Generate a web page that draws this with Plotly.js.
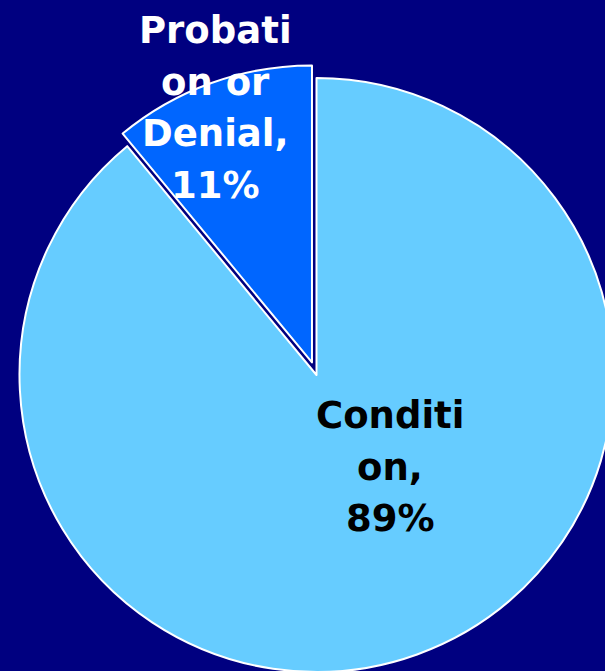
<!DOCTYPE html>
<html>
<head>
<meta charset="utf-8">
<script src="https://cdn.plot.ly/plotly-3.0.1.min.js"></script>
<style>
html,body{margin:0;padding:0;overflow:hidden;background:#000080;width:605px;height:671px;}
#chart{position:absolute;left:0;top:0;width:700px;height:760px;}
</style>
</head>
<body>
<div id="chart"></div>
<script>
const categories = ["Condition", "Probation or Denial"];
const wrappedLabels = ["Conditi<br>on,", "Probati<br>on or<br>Denial,"];
const values = [89, 11];
const sliceColors = ["#66CCFF", "#0066FF"];
const labelColors = ["#000000", "#FFFFFF"];
const pulls = [0, 0.045];
const labelPos = [[390, 464], [215, 105]]; // pixel centers of label blocks
const lineStep = 51.5;

const W = 700, H = 760;
const total = values.reduce((a, b) => a + b, 0);

const annotations = [];
categories.forEach((c, i) => {
  const lines = (wrappedLabels[i] + '<br>' + Math.round(values[i] / total * 100) + '%').split('<br>');
  const n = lines.length;
  lines.forEach((ln, k) => {
    const py = labelPos[i][1] + (k - (n - 1) / 2) * lineStep + 3;
    annotations.push({
      xref: 'paper', yref: 'paper',
      x: labelPos[i][0] / W, y: 1 - py / H,
      xanchor: 'center', yanchor: 'middle',
      showarrow: false, align: 'center',
      text: '<b>' + ln + '</b>',
      font: {family: 'DejaVu Sans', size: 37, color: labelColors[i]}
    });
  });
});

const R = 297, cx = 316.5, cyTop = 375;
const half = R * (1 + Math.max(...pulls));
const cyBottom = H - cyTop;

Plotly.newPlot('chart', [{
  type: 'pie',
  labels: categories,
  values: values,
  sort: false,
  direction: 'clockwise',
  rotation: 0,
  pull: pulls,
  marker: {colors: sliceColors, line: {color: '#FFFFFF', width: 2}},
  textinfo: 'none',
  hoverinfo: 'none',
  showlegend: false,
  domain: {x: [(cx - half) / W, (cx + half) / W], y: [(cyBottom - half) / H, (cyBottom + half) / H]}
}], {
  width: W, height: H,
  margin: {l: 0, r: 0, t: 0, b: 0},
  paper_bgcolor: '#000080',
  plot_bgcolor: '#000080',
  showlegend: false,
  annotations: annotations
}, {displayModeBar: false, staticPlot: true});
</script>
</body>
</html>
